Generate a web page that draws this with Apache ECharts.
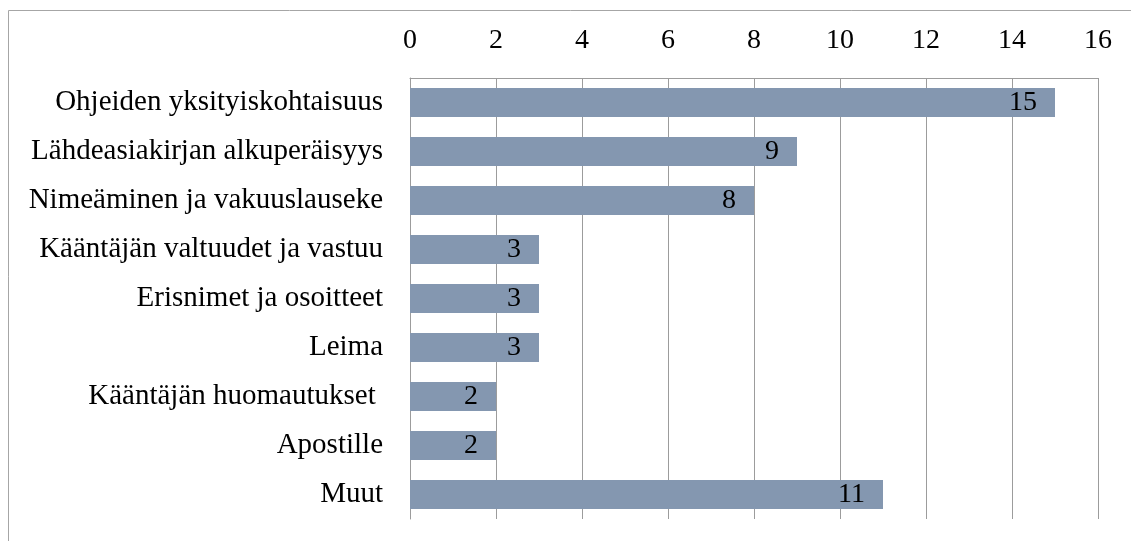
<!DOCTYPE html>
<html>
<head>
<meta charset="utf-8">
<script src="https://cdn.jsdelivr.net/npm/echarts@6/dist/echarts.min.js"></script>
<style>
  html, body { margin: 0; padding: 0; background: #fff; }
  #chart { width: 1131px; height: 541px; }
</style>
</head>
<body>
<div id="chart"></div>
<script>
// data
const categories = [
  'Ohjeiden yksityiskohtaisuus',
  'Lähdeasiakirjan alkuperäisyys',
  'Nimeäminen ja vakuuslauseke',
  'Kääntäjän valtuudet ja vastuu',
  'Erisnimet ja osoitteet',
  'Leima',
  'Kääntäjän huomautukset ',
  'Apostille',
  'Muut'
];
const values = [15, 9, 8, 3, 3, 3, 2, 2, 11];
const axisMax = 16;
const axisStep = 2;

const font = '"Liberation Serif", "Times New Roman", serif';
const chart = echarts.init(document.getElementById('chart'));

chart.setOption({
  backgroundColor: '#fff',
  animation: false,
  graphic: [
    {
      type: 'rect',
      shape: { x: 8.5, y: 10.5, width: 1200, height: 600 },
      style: { fill: 'none', stroke: '#a6a6a6', lineWidth: 1 },
      silent: true,
    },
  ],
  grid: {
    left: 410,
    right: 33,
    top: 78,
    bottom: 22,
    containLabel: false,
  },
  xAxis: {
    type: 'value',
    position: 'top',
    min: 0,
    max: axisMax,
    interval: axisStep,
    axisLine: { show: true, lineStyle: { color: '#9c9c9c', width: 1 } },
    axisTick: { show: false },
    axisLabel: {
      color: '#000',
      fontFamily: font,
      fontSize: 28,
      margin: 23,
    },
    splitLine: { show: true, lineStyle: { color: '#9c9c9c', width: 1 } },
  },
  yAxis: {
    type: 'category',
    data: categories,
    inverse: true,
    axisLine: { show: true, lineStyle: { color: '#9c9c9c', width: 1 } },
    axisTick: { show: false },
    axisLabel: {
      color: '#000',
      fontFamily: font,
      fontSize: 29,
      margin: 27,
    },
    splitLine: { show: false },
  },
  series: [
    {
      type: 'bar',
      data: values,
      barCategoryGap: '41%',
      itemStyle: { color: '#8497b0' },
      label: {
        show: true,
        position: 'insideRight',
        distance: 18,
        color: '#000',
        fontFamily: font,
        fontSize: 28,
      },
    },
  ],
});
</script>
</body>
</html>
